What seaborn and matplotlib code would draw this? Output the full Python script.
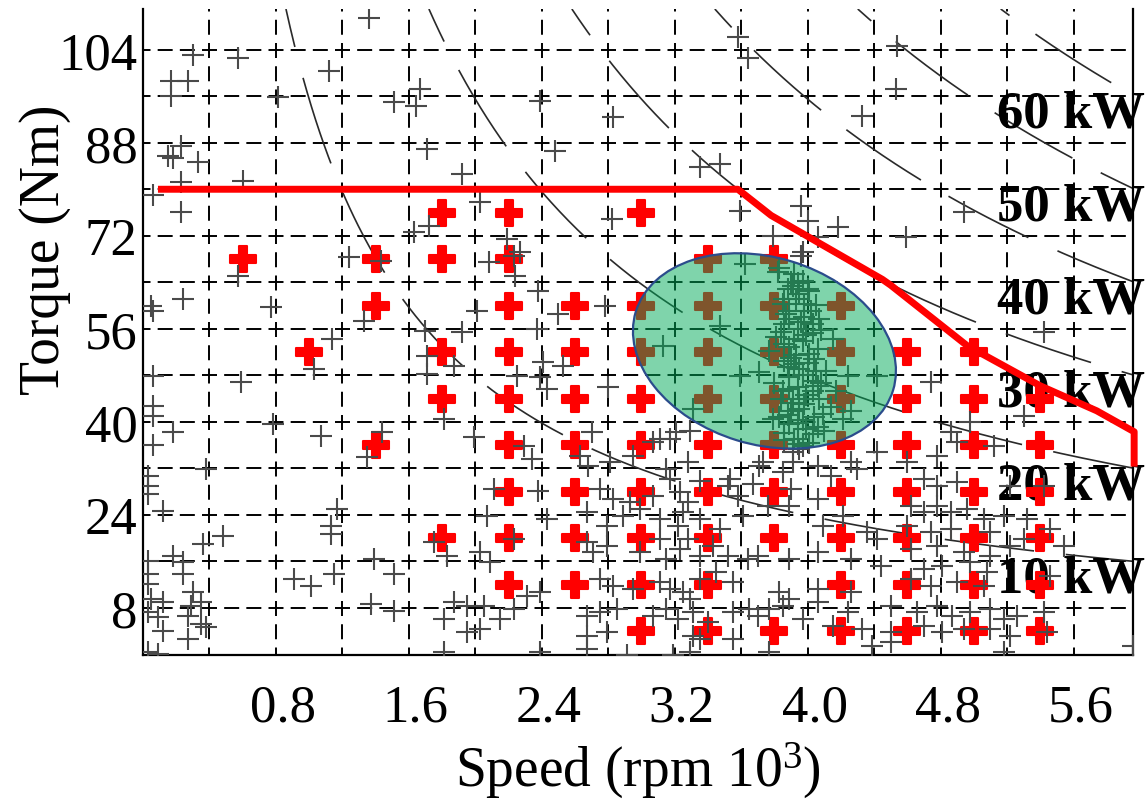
import matplotlib

matplotlib.use("Agg")

import matplotlib.pyplot as plt
import numpy as np
import pandas as pd
import seaborn as sns
from matplotlib.patches import Ellipse
from matplotlib.transforms import Affine2D, ScaledTranslation

# measured drive-cycle operating points (speed in 10^3 rpm, torque in Nm)
gray_upper_left = [
    (1.36, 109.4), (0.30, 103.0), (0.57, 102.5), (1.12, 100.4), (0.17, 98.7),
    (0.27, 98.7), (0.17, 96.1), (0.81, 95.9), (1.51, 95.0), (0.23, 87.5),
    (0.15, 85.8), (0.18, 85.3), (0.33, 84.7), (0.23, 81.3), (0.60, 81.5),
    (0.06, 79.0), (0.23, 76.1), (1.24, 68.4), (0.57, 65.1), (1.43, 67.7),
]
gray_upper_mid = [
    (3.58, 106.2), (3.64, 102.5), (1.67, 97.3), (1.64, 94.4), (2.39, 95.1),
    (2.83, 92.5), (1.71, 87.0), (2.48, 86.5), (1.92, 82.7), (3.35, 83.9),
    (3.47, 84.4), (2.03, 77.8), (2.82, 74.9), (3.59, 76.3), (1.63, 72.7),
    (1.72, 73.6), (2.19, 71.5), (2.23, 68.6), (2.08, 67.5), (2.27, 69.2),
    (2.24, 65.1), (2.38, 62.5), (3.79, 72.0), (3.97, 69.2),
]
gray_upper_right = [
    (4.54, 104.7), (4.53, 97.3), (4.33, 92.6), (3.96, 77.2), (4.00, 74.6),
    (4.06, 71.8), (4.18, 73.5), (3.96, 68.6), (4.59, 71.8), (4.94, 76.1),
]
gray_mid_left = [
    (0.05, 60.0), (0.06, 59.1), (0.24, 61.2), (0.77, 59.8), (1.33, 57.4),
    (1.14, 54.3), (0.06, 47.9), (0.59, 46.9), (1.03, 49.1), (0.06, 42.8),
    (0.06, 41.0), (0.18, 38.3), (0.78, 39.7), (1.07, 37.6), (0.06, 36.0),
    (1.44, 38.3), (1.35, 33.9), (0.38, 31.9), (0.03, 30.7), (0.03, 29.0),
    (0.03, 27.6), (0.12, 24.7), (1.17, 25.0), (1.13, 22.1), (1.13, 20.7),
    (0.48, 20.4), (0.36, 19.0),
]
gray_low_left = [
    (0.03, 16.1), (0.18, 16.9), (0.24, 15.9), (0.24, 13.8), (0.03, 13.8),
    (0.03, 12.1), (0.91, 13.0), (1.01, 11.8), (1.15, 13.8), (1.39, 16.4),
    (1.51, 13.8), (0.30, 10.8), (0.05, 9.5), (0.12, 9.0), (0.29, 8.3),
    (0.35, 9.0), (0.03, 7.3), (0.09, 6.5), (0.27, 6.6), (0.35, 5.2),
    (0.12, 4.0), (0.27, 2.7), (0.38, 4.7), (1.37, 8.7), (1.51, 7.5),
    (0.03, 0.4), (0.09, 0.1),
]
gray_mid = [
    (2.01, 59.1), (2.78, 60.0), (2.50, 58.6), (2.37, 56.0), (1.70, 55.7),
    (1.92, 55.5), (1.71, 48.3), (1.87, 49.6), (2.25, 47.9), (2.39, 47.7),
    (2.53, 49.6), (2.80, 46.0), (2.43, 45.7), (1.81, 40.5), (1.99, 37.4),
    (2.70, 38.3), (3.17, 37.1), (3.21, 38.3), (3.29, 38.5), (3.11, 37.1),
    (2.29, 35.9), (2.34, 33.6), (2.63, 34.1), (2.68, 32.4), (2.81, 33.1),
    (2.95, 34.1), (3.07, 36.6), (3.15, 31.9), (3.17, 30.2), (3.28, 33.1),
    (3.35, 29.9), (3.53, 30.2), (3.67, 29.3), (3.73, 33.1), (2.41, 50.3),
    (1.71, 51.3),
]
gray_low_mid = [
    (2.11, 28.5), (2.38, 28.1), (2.75, 28.5), (2.83, 26.8), (2.93, 26.2),
    (3.07, 27.3), (3.23, 28.0), (3.28, 26.2), (3.52, 29.0), (3.58, 27.3),
    (3.76, 25.5), (2.07, 23.8), (2.43, 23.3), (2.67, 24.5), (2.79, 22.1),
    (2.89, 23.8), (2.99, 25.0), (3.11, 23.3), (3.25, 24.5), (3.22, 22.1),
    (3.35, 23.3), (3.47, 21.6), (3.61, 23.8), (3.89, 25.5), (1.75, 19.4),
    (1.83, 16.9), (2.23, 19.9), (2.67, 19.4), (2.71, 17.6), (2.79, 18.7),
    (2.99, 17.6), (3.11, 19.9), (3.15, 16.4), (3.23, 18.2), (3.28, 19.9),
    (3.35, 16.9), (3.43, 18.7), (3.52, 16.9), (3.64, 16.4), (3.89, 16.4),
    (2.09, 15.9), (2.03, 17.6), (2.39, 10.8), (2.31, 10.1), (2.75, 13.0),
    (2.83, 11.8), (2.95, 11.3), (3.11, 12.5), (3.17, 11.3), (3.25, 10.8),
    (3.29, 9.5), (3.35, 13.0), (3.45, 14.2), (3.55, 12.5), (3.83, 10.8),
    (1.87, 9.0), (1.95, 8.3), (2.05, 8.3), (2.23, 7.8), (2.15, 6.1),
    (1.81, 6.1), (2.03, 4.4), (1.95, 3.9), (2.67, 6.6), (2.75, 7.3),
    (2.85, 7.8), (3.07, 6.6), (3.15, 7.8), (3.22, 6.1), (3.31, 7.3),
    (3.40, 5.6), (3.55, 7.3), (3.65, 7.8), (3.85, 8.3), (1.81, 0.4),
    (2.39, 0.4), (2.67, 0.9), (2.91, 0.0), (3.19, 0.0), (3.29, 0.4),
    (3.77, 0.4), (2.67, 3.2), (3.31, 3.2), (2.79, 3.9), (3.55, 2.7),
    (3.35, 2.7),
]
gray_right = [
    (5.42, 55.5), (4.74, 46.9), (5.30, 41.0), (4.98, 40.0), (4.86, 38.3),
    (5.12, 35.9), (4.90, 36.6), (4.42, 34.8), (4.78, 34.1), (4.60, 33.1),
    (4.26, 33.1), (4.06, 32.4), (3.91, 33.1), (3.71, 32.4), (3.85, 31.4),
    (4.14, 30.7), (4.30, 31.9), (3.90, 28.5), (4.06, 26.8), (4.70, 30.2),
    (4.78, 29.0), (4.90, 29.7), (5.22, 29.0), (5.42, 29.0), (4.62, 25.5),
    (4.70, 24.5), (4.78, 25.5), (4.86, 24.5), (4.96, 25.0), (5.06, 23.3),
    (5.18, 23.8), (5.32, 23.3), (4.60, 22.1), (4.74, 21.1), (4.86, 21.6),
    (5.10, 21.1), (5.30, 19.9), (5.46, 21.6), (4.36, 21.1), (4.21, 23.8),
    (4.09, 22.1), (4.42, 19.9), (4.62, 18.2), (4.78, 18.7), (4.94, 17.6),
    (5.10, 16.9), (5.22, 18.7), (5.54, 18.7), (4.06, 17.6), (4.26, 16.4),
    (3.70, 16.9), (4.44, 15.2), (4.70, 14.7), (4.81, 15.2), (4.98, 15.9),
    (5.08, 14.2), (5.46, 13.5), (4.62, 13.0), (4.74, 11.8), (4.90, 12.5),
    (5.06, 11.8), (4.06, 11.3), (4.26, 10.8), (3.89, 9.5), (4.06, 9.0),
    (3.77, 7.8), (3.70, 6.6), (4.24, 7.3), (4.50, 8.3), (4.66, 7.3),
    (4.78, 8.3), (4.87, 6.6), (4.98, 7.3), (5.10, 7.8), (5.18, 6.1),
    (5.26, 6.6), (5.42, 7.3), (3.97, 6.1), (4.15, 4.9), (4.33, 4.4),
    (4.50, 3.9), (4.70, 4.9), (4.81, 3.9), (4.94, 4.4), (5.10, 4.4),
    (5.22, 3.2), (4.39, 1.5), (4.50, 2.2), (5.18, 0.4), (5.44, 3.9),
    (5.96, 1.5),
]
gray_ellipse = [
    (3.92, 65.5), (3.97, 64.3), (3.88, 62.9), (4.01, 62.5), (3.93, 61.2),
    (3.85, 60.3), (4.05, 60.1), (3.89, 59.1), (3.98, 58.1), (4.07, 57.7),
    (3.86, 56.9), (3.94, 56.0), (4.03, 55.3), (3.81, 54.6), (3.97, 53.9),
    (3.89, 52.9), (4.06, 52.6), (3.93, 51.5), (3.86, 50.5), (4.00, 50.2),
    (3.95, 49.1), (4.11, 48.8), (3.89, 47.7), (4.03, 47.1), (3.94, 46.0),
    (3.85, 45.3), (3.99, 44.6), (4.07, 44.0), (3.91, 43.3), (3.95, 42.2),
    (3.88, 41.2), (4.04, 40.9), (3.94, 39.8), (3.99, 38.8), (3.86, 38.1),
    (3.92, 37.1), (4.01, 36.4), (3.95, 35.4), (4.14, 42.6), (3.80, 46.7),
    (4.17, 45.3), (3.83, 40.9), (4.10, 38.5), (3.77, 52.2), (4.15, 54.3),
    (4.21, 40.5), (4.26, 41.9), (3.83, 66.4), (3.86, 61.2), (3.98, 60.3),
    (3.89, 57.7), (4.03, 56.9), (3.92, 54.3), (3.86, 53.4), (4.01, 51.7),
    (3.92, 50.0), (4.05, 48.8), (3.89, 45.7), (4.03, 45.3), (3.95, 44.0),
    (3.89, 39.7), (4.03, 37.9), (3.94, 36.2), (3.47, 56.5), (3.13, 53.1),
    (3.59, 47.9), (3.71, 48.6), (3.31, 42.2), (3.79, 40.5), (4.24, 47.9),
    (4.42, 47.9), (4.06, 46.2), (3.62, 67.2), (3.82, 65.8), (3.91, 63.4),
    (3.90, 64.0), (3.95, 62.0), (4.02, 59.0), (3.87, 58.5), (3.96, 57.2),
    (4.08, 55.8), (3.84, 55.5), (3.99, 55.0), (3.90, 51.0), (4.04, 50.8),
    (3.88, 49.4), (3.97, 48.0), (4.08, 46.6), (3.84, 44.0), (3.98, 43.0),
    (4.09, 41.4), (3.90, 41.8), (3.97, 40.4), (3.86, 36.8), (4.06, 39.2),
    (3.97, 35.8), (3.91, 34.8), (4.00, 62.8), (3.94, 63.8),
]

# selected test points: torque level -> speeds
grid_points = {
    76: [1.8, 2.2, 3.0],
    68: [0.6, 1.4, 1.8, 2.2, 3.4, 3.8],
    60: [1.4, 2.2, 2.6, 3.0, 3.4, 3.8, 4.2],
    52: [1.0, 1.8, 2.2, 2.6, 3.0, 3.4, 3.8, 4.2, 4.6, 5.0],
    44: [1.8, 2.2, 2.6, 3.0, 3.4, 3.8, 4.2, 4.6, 5.0, 5.4],
    36: [1.4, 2.2, 2.6, 3.0, 3.4, 3.8, 4.2, 4.6, 5.0, 5.4],
    28: [2.2, 2.6, 3.0, 3.4, 3.8, 4.2, 4.6, 5.0, 5.4],
    20: [1.8, 2.2, 2.6, 3.0, 3.4, 3.8, 4.2, 4.6, 5.0, 5.4],
    12: [2.2, 2.6, 3.0, 3.4, 4.2, 4.6, 5.0, 5.4],
    4: [3.0, 3.4, 3.8, 4.2, 4.6, 5.0, 5.4],
}

# maximum torque envelope
envelope_speed = [0.09, 3.58, 3.78, 4.45, 4.50, 4.96, 5.40, 5.74, 5.965, 5.965]
envelope_torque = [80.0, 80.0, 75.5, 64.5, 63.5, 53.1, 46.2, 41.9, 38.3, 32.3]

power_levels = [10, 20, 30, 40, 50, 60]
power_label_torque = [13, 29, 45, 61, 77, 93]
power_label_speed = 5.14

x_ticks = [0.0, 0.4, 0.8, 1.2, 1.6, 2.0, 2.4, 2.8, 3.2, 3.6, 4.0, 4.4, 4.8, 5.2, 5.6]
x_tick_labels = ["", "", "0.8", "", "1.6", "", "2.4", "", "3.2", "", "4.0", "", "4.8", "", "5.6"]
y_ticks = [0, 8, 16, 24, 32, 40, 48, 56, 64, 72, 80, 88, 96, 104]
y_tick_labels = ["", "8", "", "24", "", "40", "", "56", "", "72", "", "88", "", "104"]

X_MAX = 5.96
Y_MAX = 111.0

gray = pd.DataFrame(
    gray_upper_left + gray_upper_mid + gray_upper_right + gray_mid_left
    + gray_low_left + gray_mid + gray_low_mid + gray_right + gray_ellipse,
    columns=["speed", "torque"],
)
grid_df = pd.DataFrame(
    [(s, t) for t, speeds in grid_points.items() for s in speeds],
    columns=["speed", "torque"],
)

sns.set_theme(style="white")
plt.rcParams["font.family"] = ["Liberation Serif", "DejaVu Serif"]
plt.rcParams["text.color"] = "black"
plt.rcParams["mathtext.fontset"] = "custom"
plt.rcParams["mathtext.rm"] = "Liberation Serif"
plt.rcParams["mathtext.it"] = "Liberation Serif:italic"

fig = plt.figure(figsize=(11.45, 8.04), dpi=100)
ax = fig.add_axes([0.1249, 0.1847, 0.8649, 0.8029])
ax.set_xlim(0, X_MAX)
ax.set_ylim(0, Y_MAX)

# constant power hyperbolas T = 9.549 P / n
curve_offsets = [36.7, 38.9, 41.8, 46.8, 51.8, 56.9]
for p, off in zip(power_levels, curve_offsets):
    n = np.linspace(9.5493 * p / Y_MAX, X_MAX, 400)
    ax.plot(n, 9.5493 * p / n, color="#2a2a2a", lw=1.2,
            linestyle=(off / 1.2, (64.8 / 1.2, 23.0 / 1.2)), zorder=1)

for p, t in zip(power_levels, power_label_torque):
    ax.text(power_label_speed, t, f"{p} kW", fontsize=38, fontweight="bold",
            color="black", ha="left", va="center", zorder=1.5, clip_on=False)

sns.scatterplot(data=grid_df, x="speed", y="torque", marker="P", s=330,
                color="red", edgecolor="red", linewidth=1.5, zorder=2.5,
                legend=False, ax=ax)
sns.scatterplot(data=gray, x="speed", y="torque", marker="+", s=256,
                color="#4a4a4a", linewidth=1.5, zorder=3, legend=False, ax=ax)

ax.plot(envelope_speed, envelope_torque, color="red", lw=5,
        solid_joinstyle="round", solid_capstyle="butt", zorder=4, clip_on=False)

# highlighted high-density region (size given in screen pixels)
px_speed = fig.get_figwidth() * fig.dpi * 0.8649 / X_MAX
px_torque = fig.get_figheight() * fig.dpi * 0.8029 / Y_MAX
ell = Ellipse((0, 0), 269, 187, angle=-17,
              facecolor=(0.0, 0.67, 0.35, 0.5), edgecolor="#2B4C8C", lw=1.6,
              zorder=5,
              transform=Affine2D().scale(1 / px_speed, 1 / px_torque)
              .translate(3.74, 52.2) + ax.transData)
ax.add_patch(ell)

# dashed grid whose dashes cross at every intersection
lw_grid = 1.4
ax.set_axisbelow(True)
ax.xaxis.grid(True, color="black", linewidth=lw_grid,
              linestyle=(5.4 / lw_grid, (10.8 / lw_grid, 5.94 / lw_grid)))
ax.yaxis.grid(True, color="black", linewidth=lw_grid,
              linestyle=(5.4 / lw_grid, (10.8 / lw_grid, 5.16 / lw_grid)))

ax.set_xticks(x_ticks)
ax.set_xticklabels(x_tick_labels)
ax.set_yticks(y_ticks)
ax.set_yticklabels(y_tick_labels)
ax.tick_params(axis="both", direction="in", length=5, width=1.2, color="black",
               labelsize=38, labelcolor="black")
ax.tick_params(axis="x", pad=21)
ax.tick_params(axis="y", pad=4)
shift = ScaledTranslation(0.07, 0, fig.dpi_scale_trans)
for lbl in ax.get_xticklabels():
    lbl.set_transform(lbl.get_transform() + shift)

for side in ["left", "bottom", "right"]:
    ax.spines[side].set_color("black")
    ax.spines[side].set_linewidth(1.6)
ax.spines["top"].set_visible(False)

ax.set_xlabel(r"Speed (rpm 10$^{3}$)", fontsize=40, color="black", va="baseline")
ax.xaxis.set_label_coords(0.5, -0.203)
ax.set_ylabel("Torque (Nm)", fontsize=40, color="black", va="center")
ax.yaxis.set_label_coords(-0.099, 0.628)

fig.savefig("out.png", dpi=100)
plt.close(fig)
